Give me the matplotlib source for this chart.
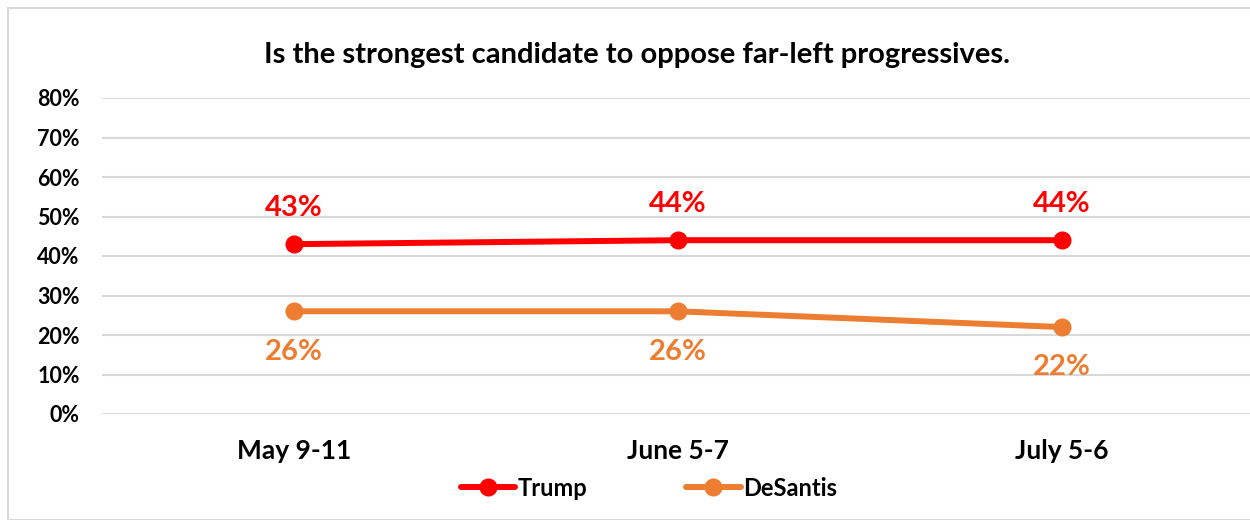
import matplotlib.pyplot as plt
from matplotlib.patches import Rectangle

plt.rcParams['font.family'] = ['Lato', 'DejaVu Sans']

dates = ['May 9-11', 'June 5-7', 'July 5-6']
trump = [0.43, 0.44, 0.44]
desantis = [0.26, 0.26, 0.22]
yticks = [0, 0.1, 0.2, 0.3, 0.4, 0.5, 0.6, 0.7, 0.8]

red = '#FF0000'
orange = '#ED7D31'

fig = plt.figure(figsize=(12.5, 5.2), dpi=100)
# chart border
fig.patches.append(Rectangle((8 / 1250, 0), 1.2, 1 - 8 / 520, transform=fig.transFigure,
                             fill=False, edgecolor='#D9D9D9', linewidth=1.5))

ax = fig.add_axes([102 / 1250, 106 / 520, 1152 / 1250, 316 / 520])
x = range(len(dates))

ax.plot(x, trump, color=red, lw=4.3, marker='o', ms=12, label='Trump', solid_capstyle='round', zorder=3)
ax.plot(x, desantis, color=orange, lw=4.3, marker='o', ms=12, label='DeSantis', solid_capstyle='round', zorder=3)

for i, v in enumerate(trump):
    ax.annotate(f'{round(v * 100)}%', (i, v), xytext=(0, 26), textcoords='offset points',
                ha='center', va='center', color=red, fontsize=21, fontweight='bold')
for i, v in enumerate(desantis):
    ax.annotate(f'{round(v * 100)}%', (i, v), xytext=(0, -29), textcoords='offset points',
                ha='center', va='center', color=orange, fontsize=21, fontweight='bold')

ax.set_xlim(-0.5, 2.5)
ax.set_ylim(0, 0.8)
ax.set_yticks(yticks)
ax.set_yticklabels([f'{round(t * 100)}%' for t in yticks])
ax.set_xticks(list(x))
ax.set_xticklabels(dates)
ax.grid(axis='y', color='#D9D9D9', lw=1.5)
ax.set_axisbelow(True)
for s in ax.spines.values():
    s.set_visible(False)
ax.tick_params(axis='y', length=0, pad=16, labelsize=15.5)
ax.tick_params(axis='x', length=0, pad=18, labelsize=19)
for lab in ax.get_xticklabels() + ax.get_yticklabels():
    lab.set_fontweight('bold')

fig.text(0.51, 1 - 55 / 520, 'Is the strongest candidate to oppose far-left progressives.',
         ha='center', va='center', fontsize=21, fontweight='bold')

fig.legend(loc='center', bbox_to_anchor=(0.519, 1 - 488 / 520), ncol=2, frameon=False,
           prop={'weight': 'bold', 'size': 17}, handlelength=2.3, handletextpad=0.1, columnspacing=4.2)

fig.savefig('out.png', dpi=100)
